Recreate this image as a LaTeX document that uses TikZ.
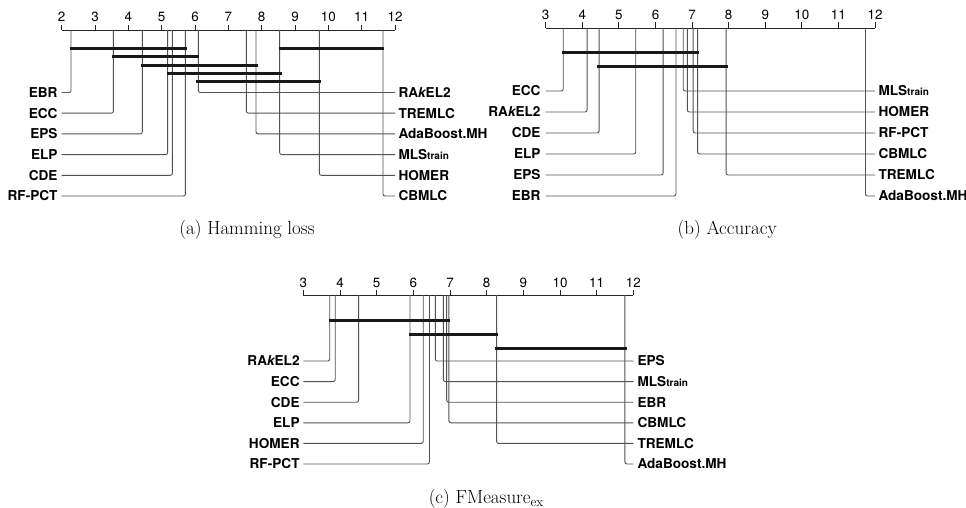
\documentclass[tikz,border=0pt]{standalone}
\usepackage{fontspec}
\newfontfamily\helv{TeX Gyre Heros}
\newcommand\mlsTrainTxt{MLS{\fontsize{10}{11}\selectfont train}}
\newcommand\rakelTxt{RA{\itshape k}EL2}
\begin{document}
\begin{tikzpicture}[x=1pt,y=-1pt,
  lbl/.style={font=\helv\bfseries\fontsize{13.6}{16}\selectfont, text height=9.7pt, text depth=0pt, inner xsep=4pt, inner ysep=0pt},
  ticklbl/.style={font=\helv\fontsize{13.4}{16}\selectfont, inner sep=0pt, anchor=base},
  axisline/.style={draw=black!85, line width=0.9pt},
  conn/.style={draw=black!68, line width=0.9pt, rounded corners=2pt},
  cbar/.style={draw=black!90, line width=3pt},
  capt/.style={font=\fontsize{19}{22}\selectfont, inner sep=0pt, anchor=base}]
\useasboundingbox (0,0) rectangle (966,508);

% ---------------- (a) Hamming loss ----------------
\begin{scope}[xshift=-4.96pt, x=33.33pt]
  \draw[axisline] (2,30) -- (12,30);
  \foreach \t in {2,...,12} {
    \draw[axisline] (\t,30) -- (\t,25);
    \node[ticklbl] (ta\t) at (\t,21.3) {\t};
  }
  \foreach \id/\v/\r/\txt in {EBR/2.28/92.5/EBR, ECC/3.55/113.2/ECC, EPS/4.42/133.9/EPS, ELP/5.18/154.6/ELP, CDE/5.32/175.3/CDE, RF/5.71/196/RF-PCT} {
    \coordinate (a\id-v) at (\v,30);
    \node[lbl,anchor=east] (a\id) at (2,\r) {\txt};
    \draw[conn] (a\id-v) |- (a\id.east);
  }
  \foreach \id/\v/\r/\txt in {RAK/6.10/92.5/\rakelTxt, TRE/7.54/113.2/TREMLC, ADA/7.83/133.9/AdaBoost.MH, MLS/8.54/154.6/\mlsTrainTxt, HOM/9.73/175.3/HOMER, CBM/11.64/196/CBMLC} {
    \coordinate (a\id-v) at (\v,30);
    \node[lbl,anchor=west,inner xsep=3.3pt] (a\id) at (12,\r) {\txt};
    \draw[conn] (a\id-v) |- (a\id.west);
  }
  \draw[cbar] (2.26,48.7) -- (5.77,48.7);
  \draw[cbar] (8.51,48.7) -- (11.66,48.7);
  \draw[cbar] (3.50,57) -- (6.13,57);
  \draw[cbar] (4.38,65.3) -- (7.88,65.3);
  \draw[cbar] (5.15,73.3) -- (8.61,73.3);
  \draw[cbar] (6.04,81.7) -- (9.77,81.7);
  \node[capt] (capA) at (7.56,234.5) {(a) Hamming loss};
\end{scope}

% ---------------- (b) Accuracy ----------------
\begin{scope}[xshift=435.93pt, x=36.59pt]
  \draw[axisline] (3,28) -- (12,28);
  \foreach \t in {3,...,12} {
    \draw[axisline] (\t,28) -- (\t,22.5);
    \node[ticklbl] (tb\t) at (\t,20) {\t};
  }
  \foreach \id/\v/\r/\txt in {ECC/3.48/91/ECC, RAK/4.13/112/\rakelTxt, CDE/4.46/133/CDE, ELP/5.46/154/ELP, EPS/6.21/175/EPS, EBR/6.56/196/EBR} {
    \coordinate (b\id-v) at (\v,28);
    \node[lbl,anchor=east,inner xsep=5pt] (b\id) at (3,\r) {\txt};
    \draw[conn] (b\id-v) |- (b\id.east);
  }
  \foreach \id/\v/\r/\txt in {MLS/6.76/91/\mlsTrainTxt, HOM/6.87/112/HOMER, RF/7.03/133/RF-PCT, CBM/7.15/154/CBMLC, TRE/7.93/175/TREMLC, ADA/11.74/196/AdaBoost.MH} {
    \coordinate (b\id-v) at (\v,28);
    \node[lbl,anchor=west,inner xsep=3.3pt] (b\id) at (12,\r) {\txt};
    \draw[conn] (b\id-v) |- (b\id.west);
  }
  \draw[cbar] (3.44,52.7) -- (7.20,52.7);
  \draw[cbar] (4.41,67) -- (7.97,67);
  \node[capt] (capB) at (7.96,234.5) {(b) Accuracy};
\end{scope}

% ---------------- (c) FMeasure ----------------
\begin{scope}[xshift=193.3pt, x=36.67pt]
  \draw[axisline] (3,295) -- (12,295);
  \foreach \t in {3,...,12} {
    \draw[axisline] (\t,295) -- (\t,289.5);
    \node[ticklbl] (tc\t) at (\t,287.3) {\t};
  }
  \foreach \id/\v/\r/\txt in {RAK/3.72/361/\rakelTxt, ECC/3.87/381.6/ECC, CDE/4.51/402.2/CDE, ELP/5.91/422.8/ELP, HOM/6.27/443.4/HOMER, RF/6.44/464/RF-PCT} {
    \coordinate (c\id-v) at (\v,295);
    \node[lbl,anchor=east,inner xsep=3.5pt] (c\id) at (3,\r) {\txt};
    \draw[conn] (c\id-v) |- (c\id.east);
  }
  \foreach \id/\v/\r/\txt in {EPS/6.60/361/EPS, MLS/6.82/381.6/\mlsTrainTxt, EBR/6.91/402.2/EBR, CBM/6.97/422.8/CBMLC, TRE/8.27/443.4/TREMLC, ADA/11.77/464/AdaBoost.MH} {
    \coordinate (c\id-v) at (\v,295);
    \node[lbl,anchor=west,inner xsep=4pt] (c\id) at (12,\r) {\txt};
    \draw[conn] (c\id-v) |- (c\id.west);
  }
  \draw[cbar] (3.69,320.7) -- (7.01,320.7);
  \draw[cbar] (5.88,334.3) -- (8.30,334.3);
  \draw[cbar] (8.22,348.7) -- (11.83,348.7);
  \node[capt] (capC) at (7.99,503.5) {(c) FMeasure$_{\mathrm{ex}}$};
\end{scope}
\end{tikzpicture}
\end{document}
